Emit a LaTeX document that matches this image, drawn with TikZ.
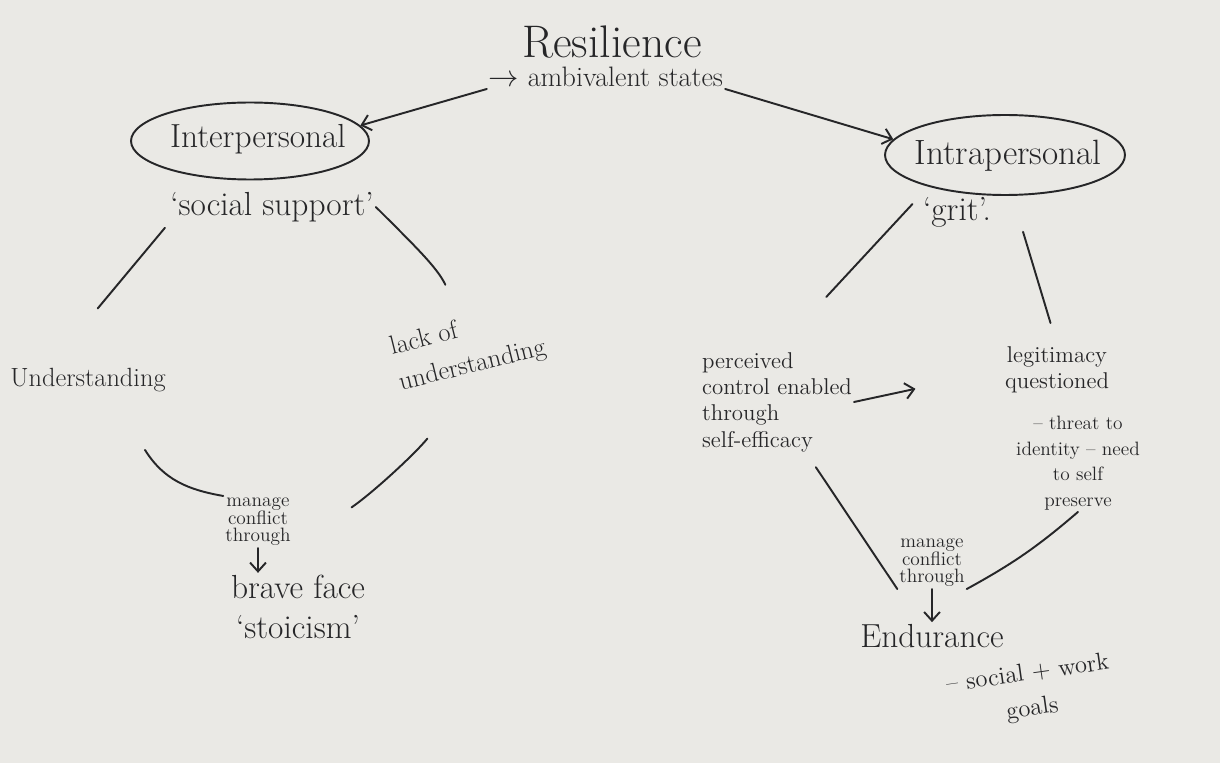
\documentclass[tikz,border=0pt]{standalone}
\usetikzlibrary{shapes.geometric,arrows.meta}
\definecolor{paper}{RGB}{234,233,229}
\definecolor{ink}{RGB}{38,38,40}

\begin{document}
\begin{tikzpicture}[x=0.02cm, y=0.02cm,
    pen/.style={draw=ink, line width=1.1pt, line cap=round},
    arr/.style={pen, -{Straight Barb[length=5pt, width=9pt]}},
    oval/.style={ellipse, pen, inner sep=0pt},
    fs/.style n args={2}{text=ink, inner sep=1pt, font=\fontsize{#1}{#2}\selectfont}]
    % 纸张
    \fill[paper] (0,0) rectangle (1220,-763);
    \useasboundingbox (0,0) rectangle (1220,-763);

    % 标题
    \node[fs={26}{30}] (res) at (612,-42) {Resilience};
    \node[fs={16}{18}] (amb) at (606,-77) {$\rightarrow$ ambivalent states};

    % 两个椭圆
    \node[oval, minimum width=4.76cm, minimum height=1.54cm] (inter) at (250,-141) {};
    \node[fs={19}{22}] (interT) at (258,-139) {Interpersonal};
    \node[oval, minimum width=4.8cm, minimum height=1.6cm] (intra) at (1005,-155) {};
    \node[fs={20}{22}] (intraT) at (1008,-156) {Intrapersonal};
    \draw[arr] (amb.south west) -- (inter.8);
    \draw[arr] (amb.south east) -- (intra.172);

    % 左侧
    \node[fs={19}{22}] (social) at (272,-207) {`social support'};
    \node[fs={15}{18}] (und) at (88,-380) {Understanding};
    \node[fs={15}{21}, align=left, rotate=14] (lack) at (468,-348) {lack of\\understanding};
    \node[fs={11}{10}, align=center] (manL) at (258,-522) {manage\\conflict\\through};
    \node[fs={19}{23}, align=center] (brave) at (298,-607) {brave face\\`stoicism'};
    \coordinate (undS) at ([shift={(57,-56)}]und.south);

    \draw[pen, shorten <=0.1cm, shorten >=1.5cm] (social.south west) -- (und.160);
    \draw[pen, shorten >=0.7cm] (social.east) to[out=-45, in=115] (lack.north);
    \draw[pen] (undS) to[out=-58, in=170] (manL.north west);
    \draw[pen, shorten <=1.53cm, shorten >=1.43cm] (lack.south) to[bend left=8] (manL.south east);
    \draw[arr] (manL.south) -- (manL.south |- brave.north);

    % 右侧
    \node[fs={19}{22}] (grit) at (957,-212) {`grit'.};
    \node[fs={13}{15}, align=left] (perc) at (777,-402) {perceived\\control enabled\\through\\self-efficacy};
    \node[fs={13}{15}, align=center] (legit) at (1057,-370) {legitimacy\\questioned};
    \node[fs={11}{14.5}, align=center] (threat) at (1078,-463) {-- threat to\\identity -- need\\to self\\preserve};
    \node[fs={11}{10}, align=center] (manR) at (932,-563) {manage\\conflict\\through};
    \node[fs={19}{22}] (endu) at (932,-636) {Endurance};
    \node[fs={14}{20}, align=center, rotate=8] (goals) at (1030,-692) {-- social + work\\goals};

    \draw[pen, shorten <=0.25cm, shorten >=1.45cm] (grit.north west) -- (perc.north);
    \draw[pen, shorten <=0.75cm, shorten >=0.45cm] (intra.-80) -- (legit.north);
    \draw[arr, shorten >=1.79cm] (perc.east) -- (legit.west);
    \draw[pen, shorten <=0.32cm] (perc.-60) -- (manR.south west);
    \draw[pen] (threat.south) to[bend left=6] (manR.south east);
    \draw[arr] (manR.south) -- (manR.south |- endu.north);
\end{tikzpicture}
\end{document}
